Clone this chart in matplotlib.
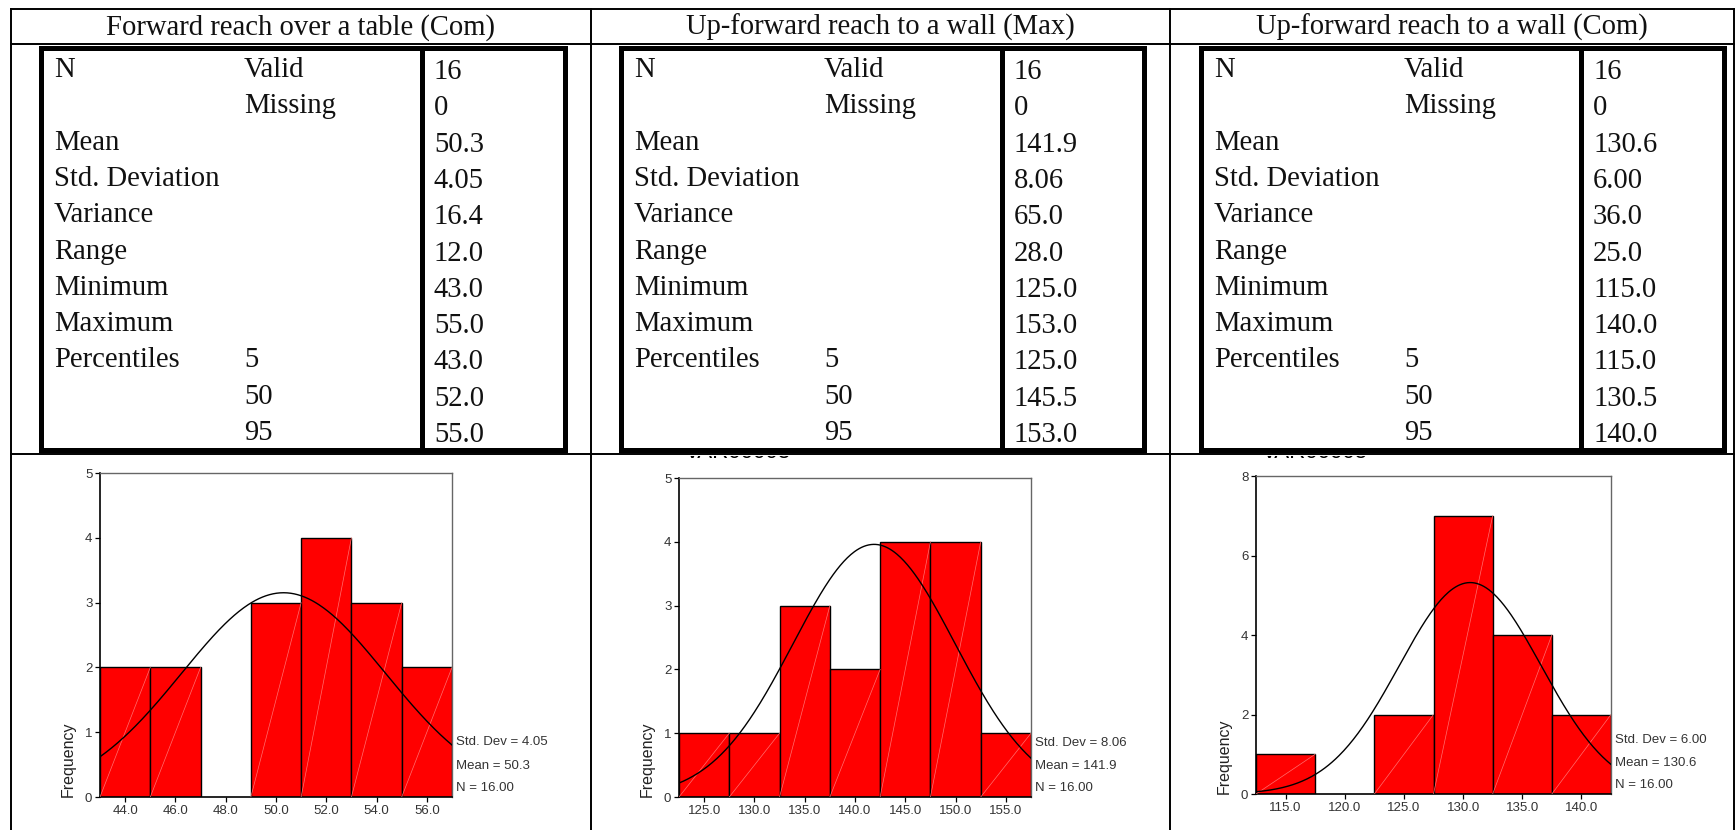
import numpy as np
import matplotlib.pyplot as plt
from matplotlib.transforms import Bbox

W, H = 1736, 830

# table contents
titles = ["Forward reach over a table (Com)",
          "Up-forward reach to a wall (Max)",
          "Up-forward reach to a wall (Com)"]
row_labels = ["N", "", "Mean", "Std. Deviation", "Variance", "Range",
              "Minimum", "Maximum", "Percentiles", "", ""]
sub_labels = ["Valid", "Missing", "", "", "", "", "", "", "5", "50", "95"]
fwd_com_stats = ["16", "0", "50.3", "4.05", "16.4", "12.0", "43.0", "55.0", "43.0", "52.0", "55.0"]
up_max_stats = ["16", "0", "141.9", "8.06", "65.0", "28.0", "125.0", "153.0", "125.0", "145.5", "153.0"]
up_com_stats = ["16", "0", "130.6", "6.00", "36.0", "25.0", "115.0", "140.0", "115.0", "130.5", "140.0"]

# histogram bins (midpoints) and frequencies
fwd_com_mids = [44, 46, 48, 50, 52, 54, 56]
fwd_com_counts = [2, 2, 0, 3, 4, 3, 2]
up_max_mids = [125, 130, 135, 140, 145, 150, 155]
up_max_counts = [1, 1, 3, 2, 4, 4, 1]
up_com_mids = [115, 120, 125, 130, 135, 140]
up_com_counts = [1, 0, 2, 7, 4, 2]
bin_widths = [2, 5, 5]
means = [50.3, 141.9, 130.6]
std_devs = [4.05, 8.06, 6.00]
n_cases = 16
y_tops = [5, 5, 8]
y_steps = [1, 1, 2]
hidden_titles = [None, "VAR00003", "VAR00005"]

serif = "Liberation Serif"
sans = "Liberation Sans"

fig = plt.figure(figsize=(W / 100, H / 100), dpi=100)
grid = fig.add_axes([0, 0, 1, 1])
grid.set_xlim(0, W)
grid.set_ylim(H, 0)
grid.axis("off")


def seg(x0, y0, x1, y1, lw):
    grid.plot([x0, x1], [y0, y1], color="black", lw=lw, solid_capstyle="projecting")


# outer cell grid
col_edges = [11, 591, 1170, 1734]
for y in (9, 44, 454):
    seg(col_edges[0], y, col_edges[-1], y, 1.4)
for x in col_edges:
    seg(x, 9, x, H + 5, 1.4)

# statistics boxes: left edge, value separator, right edge
boxes = [(41, 422, 565), (621, 1002, 1144), (1201, 1581, 1724)]
stats = [fwd_com_stats, up_max_stats, up_com_stats]
box_top, box_bot = 48, 450
row_y0, row_step = 67.5, 36.3

for i, (left, sep, right) in enumerate(boxes):
    for x in (left, sep, right):
        seg(x, box_top, x, box_bot, 3.6)
    seg(left, box_top, right, box_top, 3.6)
    seg(left, box_bot, right, box_bot, 3.6)

    cx = (col_edges[i] + col_edges[i + 1]) / 2
    grid.text(cx, 34.5, titles[i], family=serif, fontsize=20.6,
              ha="center", va="baseline", color="#111111")

    for r in range(len(row_labels)):
        yb = row_y0 + r * row_step + 9.5
        grid.text(left + 13, yb, row_labels[r], family=serif, fontsize=20.6,
                  va="baseline", color="#111111")
        grid.text(left + 203, yb, sub_labels[r], family=serif, fontsize=20.6,
                  va="baseline", color="#111111")
        grid.text(sep + 12, yb + 2, stats[i][r], family=serif, fontsize=20.6,
                  va="baseline", color="#111111")

# histogram panels (pixel rectangles: left, top, right, bottom)
panels = [(100, 473, 452, 797), (679, 478, 1031, 797), (1256, 476, 1611, 794)]
mids_all = [fwd_com_mids, up_max_mids, up_com_mids]
counts_all = [fwd_com_counts, up_max_counts, up_com_counts]

for i, (l, t, r, b) in enumerate(panels):
    ax = fig.add_axes([l / W, 1 - b / H, (r - l) / W, (b - t) / H])
    w = bin_widths[i]
    mids = np.array(mids_all[i], dtype=float)
    counts = np.array(counts_all[i], dtype=float)
    keep = counts > 0
    ax.bar(mids[keep], counts[keep], width=w, color="#ff0000",
           edgecolor="black", linewidth=1.0, zorder=2)
    # faint diagonal stroke inside each bar
    for m, c in zip(mids[keep], counts[keep]):
        ax.plot([m - w / 2, m + w / 2], [0, c], color="#ff6f6f", lw=0.5, zorder=3)

    x0, x1 = mids[0] - w / 2, mids[-1] + w / 2
    xs = np.linspace(x0, x1, 300)
    curve = n_cases * w * np.exp(-0.5 * ((xs - means[i]) / std_devs[i]) ** 2) / (std_devs[i] * np.sqrt(2 * np.pi))
    ax.plot(xs, curve, color="black", lw=1.0, zorder=4)

    ax.set_xlim(x0, x1)
    ax.set_ylim(0, y_tops[i])
    ax.set_xticks(mids)
    ax.set_xticklabels([f"{m:.1f}" for m in mids])
    ax.set_yticks(np.arange(0, y_tops[i] + 1, y_steps[i]))
    ax.tick_params(direction="out", length=3.5, width=0.9, labelsize=9.5,
                   labelcolor="#333333", pad=2)
    for name in ("left", "bottom"):
        ax.spines[name].set_color("black")
        ax.spines[name].set_linewidth(1.2)
    for name in ("top", "right"):
        ax.spines[name].set_color("#666666")
        ax.spines[name].set_linewidth(1.0)
    for lbl in ax.get_xticklabels() + ax.get_yticklabels():
        lbl.set_family(sans)

    ax.text(-32 / (r - l), 0, "Frequency", transform=ax.transAxes, rotation=90,
            ha="center", va="bottom", fontsize=11.5, family=sans, color="#222222")

    notes = [f"Std. Dev = {std_devs[i]:.2f}", f"Mean = {means[i]:.1f}", f"N = {n_cases:.2f}"]
    for frac, s in zip((0.17, 0.097, 0.027), notes):
        ax.text(1 + 4 / (r - l), frac, s, transform=ax.transAxes, ha="left",
                va="center", fontsize=9.5, family=sans, color="#333333")

    # chart title sits mostly hidden under the statistics box
    if hidden_titles[i]:
        txt = fig.text((l + 6) / W, 1 - 458 / H, hidden_titles[i], family=sans,
                       fontsize=16, va="baseline", color="black")
        txt.set_clip_box(Bbox([[col_edges[i], 0], [col_edges[i + 1], H - 456]]))
        txt.set_clip_on(True)

fig.savefig("out.png", dpi=100)
